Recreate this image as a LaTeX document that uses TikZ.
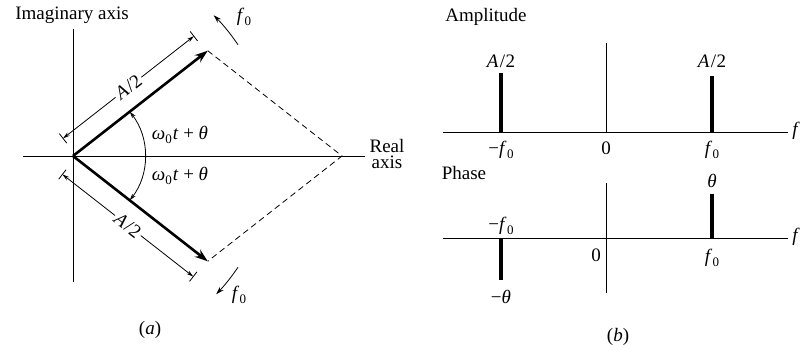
\documentclass[tikz,border=0pt]{standalone}
\usepackage{fontspec}
\setmainfont{Liberation Serif}
\usetikzlibrary{calc,arrows.meta}
\newcommand\zsub[1]{\raisebox{-0.4ex}{\fontsize{13}{13}\selectfont #1}}
\newcommand\fz{\textit{f}\kern0.5pt\zsub{0}}
\newcommand\ahalf{\textit{A}\kern1.5pt/\kern0.5pt2}
\newcommand\wlab{\textit{ω}\zsub{0}\kern1pt\textit{t} + \textit{θ}}
\begin{document}
\begin{tikzpicture}[x=1pt,y=1pt,
  axisline/.style={line width=1pt},
  vec/.style={line width=2.6pt,-{Stealth[length=13pt,width=9pt]}},
  dim/.style={line width=0.8pt},
  dimarr/.style={line width=0.8pt,{Stealth[length=7pt,width=4pt]}-{Stealth[length=7pt,width=4pt]}},
  onearr/.style={line width=0.8pt,-{Stealth[length=8pt,width=5pt]}},
  dsh/.style={line width=0.8pt,dash pattern=on 6pt off 4pt},
  spike/.style={line width=4pt},
  lbl/.style={font=\fontsize{19}{19}\selectfont,inner sep=1pt}]
\useasboundingbox (0,0) rectangle (812,-345);
% ---------- (a)
\coordinate (O) at (73,-156);
\coordinate (ImT) at (73,-29);
\coordinate (ImB) at (73,-282);
\coordinate (ReL) at (23,-156);
\coordinate (ReR) at (365,-156);
\coordinate (U) at ($(O)+(38:171)$);
\coordinate (L) at ($(O)+(-38:171)$);
\coordinate (R) at (342,-156);
\draw[axisline] (ImT) -- (ImB);
\draw[axisline] (ReL) -- (ReR);
\draw[dsh] (U) -- (R) -- (L);
\draw[vec] (O) -- (U);
\draw[vec] (O) -- (L);
% dimension lines
\coordinate (D1a) at ($(O)+(38:3)+(128:20)$);
\coordinate (D1b) at ($(O)+(38:169)+(128:20)$);
\draw[dimarr] (D1a) -- node[sloped,fill=white,lbl,inner sep=2pt] (A2u) {\ahalf} (D1b);
\draw[dim] ($(D1a)+(128:6)$) -- ($(D1a)+(-52:6)$);
\draw[dim] ($(D1b)+(128:6)$) -- ($(D1b)+(-52:6)$);
\coordinate (D2a) at ($(O)+(-38:3)+(-128:21)$);
\coordinate (D2b) at ($(O)+(-38:169)+(-128:21)$);
\draw[dimarr] (D2a) -- node[sloped,fill=white,lbl,inner sep=2pt] (A2l) {\ahalf} (D2b);
\draw[dim] ($(D2a)+(-128:6)$) -- ($(D2a)+(52:6)$);
\draw[dim] ($(D2b)+(-128:6)$) -- ($(D2b)+(52:6)$);
% angle arc
\draw[dimarr] ($(O)+(38:72)$) arc[start angle=38,end angle=-38,radius=72pt];
\node[lbl] (wu) at (180,-135) {\wlab};
\node[lbl] (wl) at (180,-176) {\wlab};
% rotation arrows
\draw[onearr] ($(O)+(34:199)$) arc[start angle=34,end angle=45,radius=199pt];
\draw[onearr] ($(O)+(-34:199)$) arc[start angle=-34,end angle=-44,radius=199pt];
\node[lbl] (fu) at (244,-17) {\fz};
\node[lbl] (fl) at (239,-295) {\fz};
\node[lbl] (imlab) at (72,-15) {Imaginary axis};
\node[lbl,align=center] (relab) at (387,-154) {Real\\[-3pt]axis};
\node[lbl] (capa) at (150,-330) {(\textit{a})};
% ---------- (b) amplitude
\node[lbl] (amp) at (486,-17) {Amplitude};
\coordinate (AxL) at (443,-132);
\coordinate (AxR) at (788,-132);
\coordinate (AvT) at (606,-43);
\coordinate (AvB) at (606,-132);
\draw[axisline] (AxL) -- (AxR);
\draw[axisline] (AvT) -- (AvB);
\draw[spike] (501,-132) -- (501,-73);
\draw[spike] (712,-132) -- (712,-76);
\node[lbl] (a2l) at (501,-61) {\ahalf};
\node[lbl] (a2r) at (712,-61) {\ahalf};
\node[lbl] (mf0a) at (501,-150) {−\fz};
\node[lbl] (z0a) at (606,-148) {0};
\node[lbl] (f0a) at (712,-150) {\fz};
\node[lbl] (fa) at (796,-131) {\textit{f}};
% ---------- (b) phase
\node[lbl] (ph) at (464,-173) {Phase};
\coordinate (PxL) at (443,-238);
\coordinate (PxR) at (788,-238);
\coordinate (PvT) at (606,-183);
\coordinate (PvB) at (606,-293);
\draw[axisline] (PxL) -- (PxR);
\draw[axisline] (PvT) -- (PvB);
\draw[spike] (712,-238) -- (712,-194);
\draw[spike] (501,-238) -- (501,-280);
\node[lbl] (th) at (712,-181) {\textit{θ}};
\node[lbl] (mth) at (501,-297) {−\textit{θ}};
\node[lbl] (mf0p) at (501,-226) {−\fz};
\node[lbl] (z0p) at (596,-255) {0};
\node[lbl] (f0p) at (712,-258) {\fz};
\node[lbl] (fp) at (796,-237) {\textit{f}};
\node[lbl] (capb) at (618,-337) {(\textit{b})};
\end{tikzpicture}
\end{document}
